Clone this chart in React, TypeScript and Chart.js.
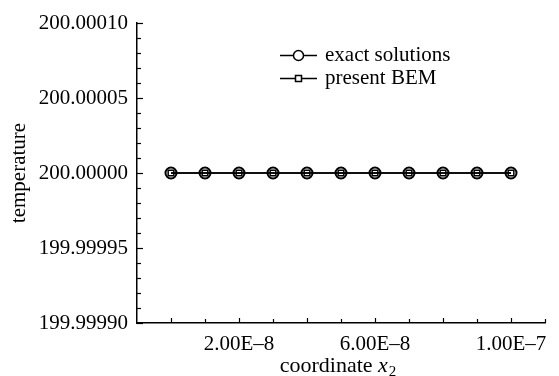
import React, { useEffect, useRef } from "react";
import { Chart, registerables } from "chart.js";

Chart.register(...registerables);

const X_VALUES = [0, 1e-8, 2e-8, 3e-8, 4e-8, 5e-8, 6e-8, 7e-8, 8e-8, 9e-8, 1e-7];
const EXACT_SOLUTIONS = [200, 200, 200, 200, 200, 200, 200, 200, 200, 200, 200];
const PRESENT_BEM = [200, 200, 200, 200, 200, 200, 200, 200, 200, 200, 200];

const X_TICKS = [2e-8, 6e-8, 1e-7];
const X_TICK_LABELS = ["2.00E\u20138", "6.00E\u20138", "1.00E\u20137"];
const Y_TICKS = [199.9999, 199.99995, 200, 200.00005, 200.0001];
const Y_TICK_LABELS = ["199.99990", "199.99995", "200.00000", "200.00005", "200.00010"];

const X_MIN = -1e-8;
const X_MAX = 1.1e-7;
const Y_MIN = 199.9999;
const Y_MAX = 200.0001;

const FONT = "'Liberation Serif', 'Times New Roman', serif";
const FS = 21;
const TFS = 22;

const axisDecor = {
  id: "axisDecor",
  afterDraw(chart: any) {
    const ctx = chart.ctx;
    const xs = chart.scales.x;
    const ys = chart.scales.y;
    const area = chart.chartArea;
    ctx.save();
    ctx.strokeStyle = "#000";
    ctx.lineWidth = 1.2;
    // x ticks every 1e-8, inside
    for (let i = 0; i <= 11; i++) {
      const v = i * 1e-8;
      const px = Math.round(xs.getPixelForValue(v)) + 0.5;
      const len = i % 2 === 0 ? 5 : 4;
      ctx.beginPath();
      ctx.moveTo(px, area.bottom);
      ctx.lineTo(px, area.bottom - len);
      ctx.stroke();
    }
    // y ticks every 1e-5, inside
    for (let i = 0; i <= 20; i++) {
      const v = Y_MIN + i * 1e-5;
      const py = Math.round(ys.getPixelForValue(v)) + 0.5;
      const len = i % 5 === 0 ? 6 : 4;
      ctx.beginPath();
      ctx.moveTo(area.left, py);
      ctx.lineTo(area.left + len, py);
      ctx.stroke();
    }
    // x title
    ctx.fillStyle = "#000";
    ctx.textBaseline = "alphabetic";
    const t1 = "coordinate ";
    ctx.font = `${TFS}px ${FONT}`;
    const w1 = ctx.measureText(t1).width;
    ctx.font = `italic ${TFS}px ${FONT}`;
    const w2 = ctx.measureText("x").width;
    ctx.font = `15px ${FONT}`;
    const w3 = ctx.measureText("2").width;
    const total = w1 + w2 + w3 + 1;
    const x0 = 338 - total / 2;
    const base = 372;
    ctx.textAlign = "left";
    ctx.font = `${TFS}px ${FONT}`;
    ctx.fillText(t1, x0, base);
    ctx.font = `italic ${TFS}px ${FONT}`;
    ctx.fillText("x", x0 + w1, base);
    ctx.font = `15px ${FONT}`;
    ctx.fillText("2", x0 + w1 + w2 + 1, base + 4);

    // legend
    const ds = chart.data.datasets;
    const rows = [55, 78];
    ds.forEach((d: any, i: number) => {
      const y = rows[i];
      ctx.strokeStyle = "#000";
      ctx.lineWidth = 1.5;
      ctx.beginPath();
      ctx.moveTo(280, y + 0.5);
      ctx.lineTo(317, y + 0.5);
      ctx.stroke();
      if (d.pointStyle === "circle") {
        ctx.fillStyle = "#fff";
        ctx.beginPath();
        ctx.arc(298.5, y + 0.5, 5, 0, Math.PI * 2);
        ctx.fill();
        ctx.stroke();
      } else {
        ctx.fillStyle = "#fff";
        ctx.fillRect(295.5, y - 2.5, 6, 6);
        ctx.strokeRect(295.5, y - 2.5, 6, 6);
      }
      ctx.fillStyle = "#000";
      ctx.font = `${FS}px ${FONT}`;
      ctx.textBaseline = "middle";
      ctx.fillText(d.label, 325, y);
    });
    ctx.restore();
  },
};

export default function App() {
  const ref = useRef<HTMLCanvasElement>(null);
  useEffect(() => {
    if (!ref.current) return;
    const chart = new Chart(ref.current, {
      type: "line",
      data: {
        datasets: [
          {
            label: "exact solutions",
            data: X_VALUES.map((x, i) => ({ x, y: EXACT_SOLUTIONS[i] })),
            borderColor: "#000",
            borderWidth: 1.5,
            pointStyle: "circle",
            pointRadius: 5.5,
            pointBorderWidth: 2,
            pointBorderColor: "#000",
            pointBackgroundColor: "rgba(255,255,255,0)",
            fill: false,
          },
          {
            label: "present BEM",
            data: X_VALUES.map((x, i) => ({ x, y: PRESENT_BEM[i] })),
            borderColor: "#000",
            borderWidth: 1.5,
            pointStyle: "rect",
            pointRadius: 4,
            pointBorderWidth: 1.5,
            pointBorderColor: "#000",
            pointBackgroundColor: "rgba(255,255,255,0)",
            fill: false,
          },
        ],
      },
      options: {
        animation: false,
        responsive: false,
        events: [],
        layout: { padding: { left: 0, top: 23, right: 14, bottom: 0 } },
        plugins: { legend: { display: false }, tooltip: { enabled: false } },
        scales: {
          x: {
            type: "linear",
            min: X_MIN,
            max: X_MAX,
            afterBuildTicks: (s: any) => {
              s.ticks = X_TICKS.map((v) => ({ value: v }));
            },
            afterFit: (s: any) => {
              s.height = 53;
            },
            grid: { display: false, drawTicks: false },
            border: { display: true, color: "#000", width: 1.5 },
            ticks: {
              color: "#000",
              padding: 9,
              maxRotation: 0,
              autoSkip: false,
              font: { family: FONT, size: FS },
              callback: (v: any) => {
                const i = X_TICKS.findIndex((t) => Math.abs(t - v) < 1e-12);
                return i >= 0 ? X_TICK_LABELS[i] : "";
              },
            },
          },
          y: {
            type: "linear",
            min: Y_MIN,
            max: Y_MAX,
            afterBuildTicks: (s: any) => {
              s.ticks = Y_TICKS.map((v) => ({ value: v }));
            },
            afterFit: (s: any) => {
              s.width = 137;
            },
            grid: { display: false, drawTicks: false },
            border: { display: true, color: "#000", width: 1.5 },
            title: {
              display: true,
              text: "temperature",
              color: "#000",
              font: { family: FONT, size: FS },
              padding: { top: 7, bottom: 0 },
            },
            ticks: {
              color: "#000",
              padding: 9,
              autoSkip: false,
              font: { family: FONT, size: FS },
              callback: (v: any) => {
                const i = Y_TICKS.findIndex((t) => Math.abs(t - v) < 1e-9);
                return i >= 0 ? Y_TICK_LABELS[i] : "";
              },
            },
          },
        },
      },
      plugins: [axisDecor],
    });
    return () => chart.destroy();
  }, []);
  return (
    <div style={{ position: "fixed", left: 0, top: 0, width: 559, height: 376, background: "#fff" }}>
      <canvas ref={ref} width={559} height={376} style={{ width: 559, height: 376 }} />
    </div>
  );
}
